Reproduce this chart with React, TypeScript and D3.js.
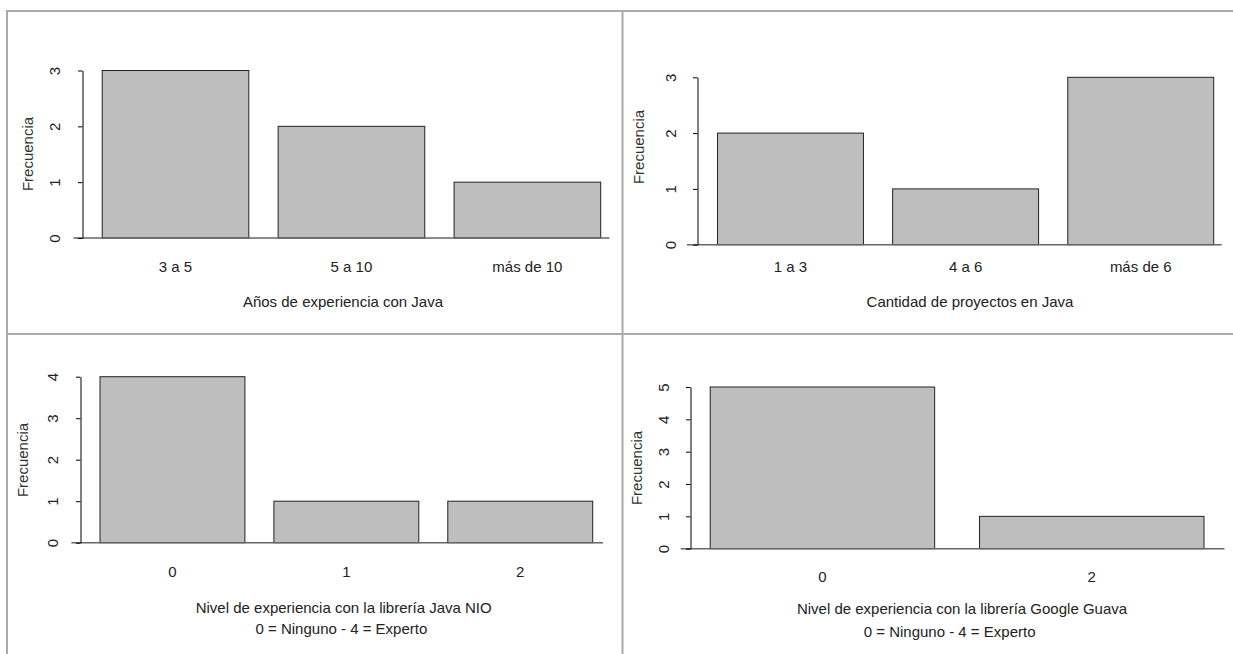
import React, { useRef, useEffect } from 'react';
import * as d3 from 'd3';

// datos de la encuesta
const aniosCategorias = ['3 a 5', '5 a 10', 'más de 10'];
const aniosFrecuencia = [3, 2, 1];
const proyectosCategorias = ['1 a 3', '4 a 6', 'más de 6'];
const proyectosFrecuencia = [2, 1, 3];
const nioCategorias = ['0', '1', '2'];
const nioFrecuencia = [4, 1, 1];
const guavaCategorias = ['0', '2'];
const guavaFrecuencia = [5, 1];

const aniosTitulo = ['Años de experiencia con Java'];
const proyectosTitulo = ['Cantidad de proyectos en Java'];
const nioTitulo = ['Nivel de experiencia con la librería Java NIO', '0 = Ninguno - 4 = Experto'];
const guavaTitulo = ['Nivel de experiencia con la librería Google Guava', '0 = Ninguno - 4 = Experto'];

const yLabel = 'Frecuencia';
const FONT = '"Liberation Sans", Arial, sans-serif';
const BAR_FILL = '#bebebe';
const GRID = '#ababab';

const panels = [
  {
    cats: aniosCategorias, vals: aniosFrecuencia, title: aniosTitulo,
    axisX: 82.5, barLeft: 102.2, barRight: 600.7, y0: 238, yTop: 70.5,
    lineLeft: 73.5, lineRight: 609.5, tickBase: 272,
    titleX: [343], titleBase: [307], tickLabelX: 54.5, frecX: 27.8, frecY: 154
  },
  {
    cats: proyectosCategorias, vals: proyectosFrecuencia, title: proyectosTitulo,
    axisX: 697.5, barLeft: 717.5, barRight: 1213.7, y0: 244.7, yTop: 77.3,
    lineLeft: 687, lineRight: 1221.7, tickBase: 271.5,
    titleX: [970], titleBase: [307], tickLabelX: 670.6, frecX: 639, frecY: 147
  },
  {
    cats: nioCategorias, vals: nioFrecuencia, title: nioTitulo,
    axisX: 80.5, barLeft: 100, barRight: 592.7, y0: 542.7, yTop: 376.7,
    lineLeft: 71.4, lineRight: 603, tickBase: 577,
    titleX: [343.7, 341.4], titleBase: [612.6, 633.6], tickLabelX: 53, frecX: 22.4, frecY: 460
  },
  {
    cats: guavaCategorias, vals: guavaFrecuencia, title: guavaTitulo,
    axisX: 690.5, barLeft: 710.2, barRight: 1204, y0: 548.7, yTop: 387,
    lineLeft: 680.7, lineRight: 1224.5, tickBase: 582,
    titleX: [962, 949.6], titleBase: [614, 637], tickLabelX: 663.4, frecX: 636.3, frecY: 468
  }
];

export default function App() {
  const svgRef = useRef<SVGSVGElement>(null);

  useEffect(() => {
    const svg = d3.select(svgRef.current);
    svg.selectAll('*').remove();

    // marco de la tabla
    const frame = svg.append('g').attr('stroke', GRID).attr('stroke-width', 2).attr('fill', 'none');
    frame.append('line').attr('x1', 7).attr('x2', 7).attr('y1', 10).attr('y2', 654);
    frame.append('line').attr('x1', 6).attr('x2', 1233).attr('y1', 11).attr('y2', 11);
    frame.append('line').attr('x1', 622.5).attr('x2', 622.5).attr('y1', 10).attr('y2', 654);
    frame.append('line').attr('x1', 6).attr('x2', 1233).attr('y1', 334).attr('y2', 334);

    panels.forEach(p => {
      const g = svg.append('g').style('font-family', FONT);
      const maxVal = d3.max(p.vals) as number;

      const x = d3.scaleBand()
        .domain(p.cats)
        .range([p.barLeft, p.barRight])
        .paddingInner(0.2 / 1.2)
        .paddingOuter(0);

      const y = d3.scaleLinear().domain([0, maxVal]).range([p.y0, p.yTop]);

      // barras
      g.selectAll('rect.bar')
        .data(p.vals)
        .join('rect')
        .attr('class', 'bar')
        .attr('x', (_, i) => (x(p.cats[i]) as number))
        .attr('y', d => y(d))
        .attr('width', x.bandwidth())
        .attr('height', d => y(0) - y(d))
        .attr('fill', BAR_FILL)
        .attr('stroke', '#222')
        .attr('stroke-width', 1);

      // linea base
      g.append('line')
        .attr('x1', p.lineLeft).attr('x2', p.lineRight)
        .attr('y1', y(0)).attr('y2', y(0))
        .attr('stroke', '#666').attr('stroke-width', 1.6);

      // eje y
      const yAxis = g.append('g')
        .attr('transform', `translate(${p.axisX},0)`)
        .call(d3.axisLeft(y).tickValues(d3.range(0, maxVal + 1)).tickFormat(d3.format('d')).tickSize(4.5).tickSizeOuter(0));
      yAxis.select('.domain').attr('stroke', '#000');
      yAxis.selectAll('.tick line').attr('stroke', '#000');
      yAxis.selectAll('.tick text')
        .attr('transform', 'rotate(-90)')
        .attr('x', 0)
        .attr('dy', null)
        .attr('y', -(p.axisX - p.tickLabelX) + 5.3)
        .attr('text-anchor', 'middle')
        .attr('fill', '#222')
        .style('font-size', '15px')
        .style('font-family', FONT);

      // etiqueta eje y
      g.append('text')
        .attr('transform', `translate(${p.frecX + 5.4},${p.frecY}) rotate(-90)`)
        .attr('text-anchor', 'middle')
        .attr('fill', '#333')
        .style('font-size', '15px')
        .text(yLabel);

      // categorias
      g.selectAll('text.cat')
        .data(p.cats)
        .join('text')
        .attr('class', 'cat')
        .attr('x', d => (x(d) as number) + x.bandwidth() / 2)
        .attr('y', p.tickBase)
        .attr('text-anchor', 'middle')
        .attr('fill', '#222')
        .style('font-size', '15px')
        .text(d => d);

      // titulo eje x
      p.title.forEach((t, i) => {
        g.append('text')
          .attr('x', p.titleX[i])
          .attr('y', p.titleBase[i])
          .attr('text-anchor', 'middle')
          .attr('fill', '#222')
          .style('font-size', '15px')
          .text(t);
      });
    });
  }, []);

  return (
    <div style={{ position: 'absolute', left: 0, top: 0, width: 1233, height: 654, background: '#fff' }}>
      <svg ref={svgRef} width={1233} height={654} style={{ display: 'block' }}></svg>
    </div>
  );
}
